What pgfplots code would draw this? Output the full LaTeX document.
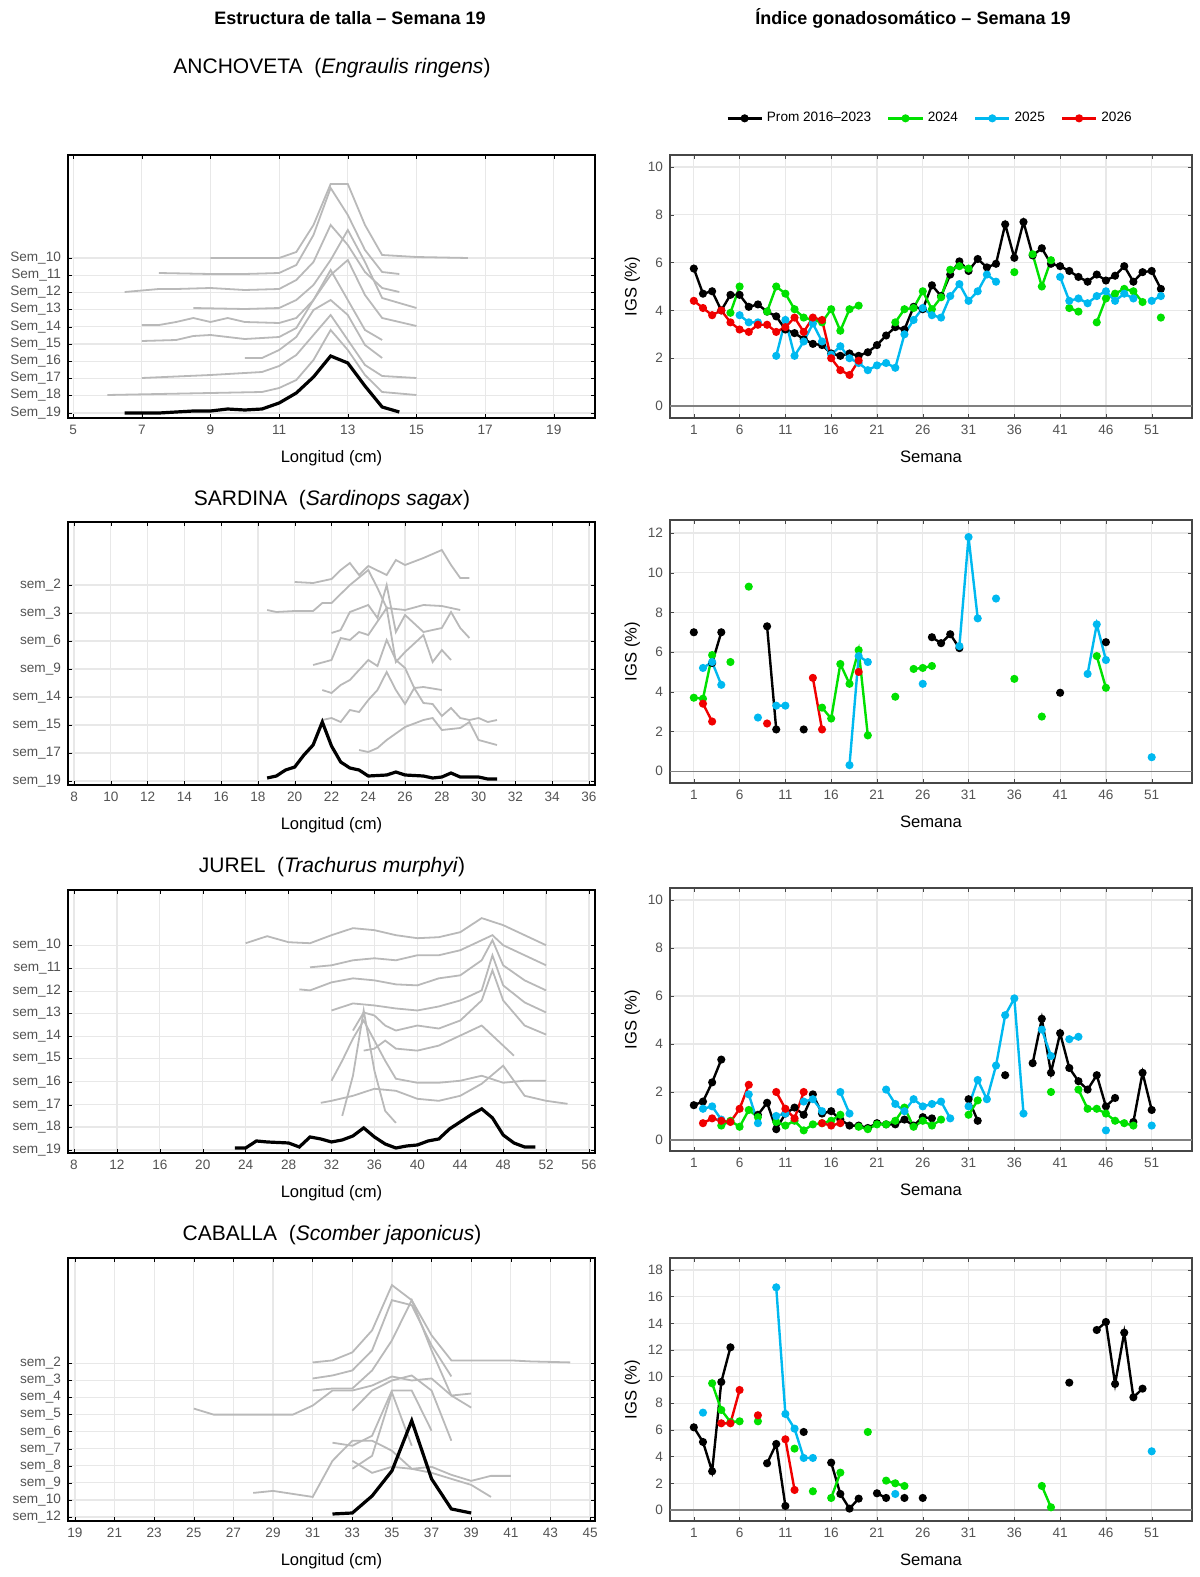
\documentclass[border=0pt]{standalone}
\usepackage{pgfplots}
\pgfplotsset{compat=1.18}
\usepackage{fontspec}
\setmainfont{Liberation Sans}
\definecolor{cg}{RGB}{0,225,0}
\definecolor{cb}{RGB}{0,185,240}
\definecolor{cr}{RGB}{240,0,0}
\pgfplotsset{
 R/.style={scale only axis,width=261pt,height=131.5pt,anchor=north west,
  xmin=-1.6,xmax=55.4,xtick={1,6,...,51},unbounded coords=jump,
  grid=major,grid style={gray!18,line width=0.6pt},
  axis line style={gray!55!black,line width=0.8pt},
  tick label style={font=\fontsize{6.8}{7}\selectfont,text=gray!65!black},
  xlabel=Semana,ylabel={IGS (\%)},label style={font=\fontsize{8.3}{9}\selectfont},
  xlabel style={yshift=-1pt},ylabel style={yshift=-3pt},
  tick style={gray!55!black},major tick length=2pt,
  /pgf/number format/assume math mode=true,
  every axis plot/.append style={line width=1.2pt,mark=*,mark size=1.4pt}},
 L/.style={scale only axis,width=263.5pt,height=131.5pt,anchor=north west,y dir=reverse,
  grid=major,grid style={gray!18,line width=0.6pt},
  axis line style={black,line width=1pt},
  tick label style={font=\fontsize{6.8}{7}\selectfont,text=gray!65!black},
  xlabel={Longitud (cm)},label style={font=\fontsize{8.3}{9}\selectfont},
  xlabel style={yshift=-1pt},
  tick style={black},major tick length=2pt,
  /pgf/number format/assume math mode=true},
 G/.style={gray!55,line width=0.9pt,mark=none},
 BK/.style={black,line width=1.6pt,mark=none}
}
\begin{document}
\begin{tikzpicture}
\useasboundingbox (0,0) rectangle (599.5pt,-788.5pt);
\node[font=\bfseries\fontsize{9}{10}\selectfont] at (175pt,-9pt) {Estructura de talla -- Semana 19};
\node[font=\bfseries\fontsize{9}{10}\selectfont] at (456.5pt,-9pt) {Índice gonadosomático -- Semana 19};
\node[font=\fontsize{10.5}{12}\selectfont] at (166pt,-34pt) {ANCHOVETA\ \ (\textit{Engraulis ringens})};
\node[font=\fontsize{10.5}{12}\selectfont] at (166pt,-250pt) {SARDINA\ \ (\textit{Sardinops sagax})};
\node[font=\fontsize{10.5}{12}\selectfont] at (166pt,-433.5pt) {JUREL\ \ (\textit{Trachurus murphyi})};
\node[font=\fontsize{10.5}{12}\selectfont] at (166pt,-617.5pt) {CABALLA\ \ (\textit{Scomber japonicus})};

% ---------- Left row 1
\begin{axis}[L,at={(34pt,-77.5pt)},xmin=4.85,xmax=20.2,xtick={5,7,...,19},ymin=155,ymax=418,
 ytick={258,275.2,292.4,309.6,326.8,344,361.2,378.4,395.6,413},
 yticklabels={Sem\_10,Sem\_11,Sem\_12,Sem\_13,Sem\_14,Sem\_15,Sem\_16,Sem\_17,Sem\_18,Sem\_19}]
\addplot[G] coordinates {(9,258)(10,258)(11,258)(11.5,252)(12,225)(12.5,184)(13,184)(13.5,225)(14,255)(15,257)(16.5,258)};
\addplot[G] coordinates {(7.5,273)(9,274)(10,274)(11,273)(11.5,265)(12,235)(12.5,188)(13,215)(13.5,250)(14,272)(14.5,274)};
\addplot[G] coordinates {(6.5,292)(7.5,289)(8,289)(9,288)(10,290)(11,289)(11.5,280)(12,262)(12.5,225)(13,245)(13.5,272)(14,288)(14.5,292)};
\addplot[G] coordinates {(8.5,308)(10,309)(11,308)(11.5,300)(12,285)(12.5,260)(13,230)(13.5,262)(14,298)(15,308)};
\addplot[G] coordinates {(7,325)(7.5,325)(8,322)(8.5,318)(9,322)(9.5,318)(10,322)(11,323)(11.5,318)(12,300)(12.5,275)(13,260)(13.5,295)(14,318)(15,326)};
\addplot[G] coordinates {(7,341)(8,340)(8.5,336)(9,335)(10,339)(11,337)(11.5,328)(12,300)(12.5,270)(13,300)(13.5,330)(14,340)};
\addplot[G] coordinates {(10,358)(10.5,358)(11,350)(11.5,337)(12,310)(12.5,300)(13,315)(13.5,345)(14,358)};
\addplot[G] coordinates {(7,378)(9,375)(10.5,372)(11,366)(11.5,355)(12,335)(12.5,315)(13,340)(13.5,365)(14,376)(15,378)};
\addplot[G] coordinates {(6,395)(9,393)(10.5,392)(11,388)(11.5,380)(12,360)(12.5,330)(13,350)(13.5,375)(14,392)(15,395)};
\addplot[BK] coordinates {(6.5,413)(7.5,413)(8,412)(8.5,411)(9,411)(9.5,409)(10,410)(10.5,409)(11,403)(11.5,393)(12,377)(12.5,356)(13,363)(13.5,386)(14,407)(14.5,412)};
\end{axis}

% ---------- Left row 2
\begin{axis}[L,at={(34pt,-261pt)},xmin=7.67,xmax=36.33,xtick={8,10,...,36},ymin=522,ymax=785,
 ytick={585,613,641,669,697,725,753,781},
 yticklabels={sem\_2,sem\_3,sem\_6,sem\_9,sem\_14,sem\_15,sem\_17,sem\_19}]
\addplot[G] coordinates {(20,582)(21,583)(22,579)(22.5,570)(23,563)(23.5,575)(24,566)(25,575)(25.5,560)(26,565)(27,558)(28,550)(28.5,565)(29,578)(29.5,578)};
\addplot[G] coordinates {(18.5,610)(19,612)(20,611)(21,611)(21.5,603)(22,603)(23,585)(24,570)(24.5,588)(25,608)(26,610)(27,605)(28,606)(29,610)};
\addplot[G] coordinates {(22,633)(22.5,630)(23,612)(24,605)(24.5,618)(25,585)(25.5,632)(26,615)(27,632)(28,628)(28.5,612)(29,628)(29.5,638)};
\addplot[G] coordinates {(21,665)(22,660)(22.5,638)(23,640)(23.5,632)(24,635)(25,608)(25.5,662)(26,652)(27,635)(27.5,662)(28,650)(28.5,660)};
\addplot[G] coordinates {(21.5,690)(22,693)(22.5,685)(23,680)(24,660)(24.5,666)(25,640)(25.5,660)(26,668)(26.5,688)(27,687)(28,690)};
\addplot[G] coordinates {(21.5,720)(22,718)(22.5,722)(23,710)(23.5,712)(24,700)(24.5,690)(25,672)(25.5,690)(26,704)(26.5,688)(27,703)(27.5,704)(28,716)(28.5,708)(29,718)(29.5,720)(30,718)(30.5,722)(31,720)};
\addplot[G] coordinates {(23.5,750)(24,752)(24.5,748)(25,740)(26,727)(27,720)(27.5,718)(28,730)(29,728)(29.5,722)(30,740)(31,745)};
\addplot[BK] coordinates {(18.5,778)(19,776)(19.5,770)(20,767)(20.5,755)(21,745)(21.5,722)(22,746)(22.5,762)(23,768)(23.5,770)(24,776)(25,775)(25.5,772)(26,775)(27,776)(27.5,778)(28,777)(28.5,773)(29,777)(30,777)(30.5,779)(31,779)};
\end{axis}

% ---------- Left row 3
\begin{axis}[L,at={(34pt,-445pt)},xmin=7.44,xmax=56.56,xtick={8,12,...,56},ymin=890,ymax=1152,
 ytick={945,968,991,1013,1036,1058,1081,1104,1126,1149},
 yticklabels={sem\_10,sem\_11,sem\_12,sem\_13,sem\_14,sem\_15,sem\_16,sem\_17,sem\_18,sem\_19}]
\addplot[G] coordinates {(24,943)(26,936)(28,942)(30,943)(32,935)(34,928)(36,930)(38,935)(40,938)(42,937)(44,932)(46,918)(48,925)(50,935)(52,945)};
\addplot[G] coordinates {(30,967)(32,965)(34,960)(36,958)(38,960)(40,955)(42,955)(44,950)(46,940)(47,935)(48,945)(50,955)(52,965)};
\addplot[G] coordinates {(29,989)(30,990)(32,982)(34,978)(36,980)(38,984)(40,985)(42,978)(44,975)(46,960)(47,940)(48,965)(50,980)(52,990)};
\addplot[G] coordinates {(32,1010)(34,1003)(36,1005)(38,1008)(40,1010)(42,1006)(44,1000)(46,990)(47,955)(48,985)(50,1002)(52,1012)};
\addplot[G] coordinates {(34,1030)(35,1012)(36,1015)(37,1025)(38,1030)(40,1025)(42,1028)(44,1020)(46,1000)(47,970)(48,1000)(50,1025)(52,1034)};
\addplot[G] coordinates {(35,1050)(36,1048)(37,1040)(38,1048)(40,1050)(42,1045)(44,1035)(46,1025)(48,1045)(49,1055)};
\addplot[G] coordinates {(32,1080)(33,1060)(34,1038)(35,1020)(36,1040)(37,1060)(38,1078)(40,1082)(42,1082)(44,1080)(46,1075)(48,1082)(50,1080)(52,1080)};
\addplot[G] coordinates {(31,1102)(32,1100)(34,1095)(36,1088)(38,1090)(40,1098)(42,1100)(44,1095)(46,1083)(48,1065)(49,1080)(50,1095)(52,1100)(54,1103)};
\addplot[G] coordinates {(33,1115)(34,1075)(35,1010)(36,1070)(37,1110)(38,1122)};
\addplot[BK] coordinates {(23,1147)(24,1147)(25,1140)(26,1141)(28,1142)(29,1146)(30,1136)(31,1138)(32,1141)(33,1139)(34,1135)(35,1127)(36,1136)(37,1143)(38,1147)(39,1145)(40,1144)(41,1140)(42,1138)(43,1128)(44,1121)(45,1114)(46,1108)(47,1117)(48,1134)(49,1142)(50,1146)(51,1146)};
\end{axis}

% ---------- Left row 4
\begin{axis}[L,at={(34pt,-629pt)},xmin=18.65,xmax=45.25,xtick={19,21,...,45},ymin=1258,ymax=1520,
 ytick={1363,1380,1397,1414,1431,1448,1465,1482,1499,1516},
 yticklabels={sem\_2,sem\_3,sem\_4,sem\_5,sem\_6,sem\_7,sem\_8,sem\_9,sem\_10,sem\_12}]
\addplot[G] coordinates {(31,1362)(32,1360)(33,1352)(34,1330)(35,1285)(36,1300)(37,1335)(38,1360)(40,1360)(41,1360)(42,1361)(44,1362)};
\addplot[G] coordinates {(31,1378)(32,1375)(33,1370)(34,1350)(35,1300)(36,1305)(37,1345)(38,1376)};
\addplot[G] coordinates {(31,1390)(32,1388)(33,1388)(34,1370)(35,1340)(36,1300)(37,1350)(38,1395)(39,1393)};
\addplot[G] coordinates {(25,1408)(26,1414)(28,1414)(30,1414)(31,1405)(32,1390)(33,1390)(34,1385)(35,1376)(36,1380)(37,1378)(38,1395)(39,1407)};
\addplot[G] coordinates {(33,1410)(34,1390)(35,1380)(36,1375)(37,1390)(38,1440)};
\addplot[G] coordinates {(32,1442)(33,1445)(34,1435)(35,1390)(36,1390)(37,1430)};
\addplot[G] coordinates {(33,1468)(34,1455)(35,1392)(36,1445)};
\addplot[G] coordinates {(28,1492)(29,1490)(30,1493)(31,1496)(32,1460)(33,1440)(34,1440)(35,1450)(36,1468)(37,1466)(38,1474)(39,1480)(40,1475)(41,1475)};
\addplot[G] coordinates {(33,1460)(34,1472)(35,1466)(36,1468)(37,1472)(38,1478)(39,1484)(40,1496)};
\addplot[BK] coordinates {(32,1513)(33,1512)(34,1495)(35,1470)(36,1420)(37,1478)(38,1508)(39,1512)};
\end{axis}

% ---------- Right row 1
\begin{axis}[R,at={(335pt,-77.5pt)},ymin=-0.5,ymax=10.5,ytick={0,2,...,10},
 legend style={at={(0.5,1)},anchor=south,yshift=11pt,draw=none,font=\fontsize{6.8}{7}\selectfont,
  /tikz/every even column/.append style={column sep=6pt}},legend columns=4,
  legend image post style={line width=1.2pt}]
\addplot[black] coordinates {(1,5.75)(2,4.7)(3,4.8)(4,4.0)(5,4.65)(6,4.65)(7,4.15)(8,4.25)(9,3.95)(10,3.75)(11,3.2)(12,3.05)(13,2.8)(14,2.6)(15,2.55)(16,2.2)(17,2.1)(18,2.2)(19,2.1)(20,2.25)(21,2.55)(22,2.95)(23,3.3)(24,3.2)(25,4.15)(26,4.05)(27,5.05)(28,4.6)(29,5.5)(30,6.05)(31,5.65)(32,6.15)(33,5.8)(34,5.95)(35,7.6)(36,6.2)(37,7.7)(38,6.3)(39,6.6)(40,5.95)(41,5.85)(42,5.65)(43,5.4)(44,5.2)(45,5.5)(46,5.25)(47,5.45)(48,5.85)(49,5.2)(50,5.6)(51,5.65)(52,4.9)};
\addplot[cg] coordinates {(5,3.9)(6,5.0)(7,nan)(9,3.95)(10,5.0)(11,4.7)(12,4.05)(13,3.7)(14,3.6)(15,3.5)(16,4.05)(17,3.15)(18,4.05)(19,4.2)(20,nan)(23,3.5)(24,4.05)(25,4.1)(26,4.8)(27,4.05)(28,4.55)(29,5.7)(30,5.85)(31,5.75)(32,nan)(36,5.6)(37,nan)(38,6.35)(39,5.0)(40,6.1)(41,nan)(42,4.1)(43,3.95)(44,nan)(45,3.5)(46,4.5)(47,4.7)(48,4.9)(49,4.8)(50,4.35)(51,nan)(52,3.7)};
\addplot[cb] coordinates {(6,3.8)(7,3.5)(8,3.5)(9,nan)(10,2.1)(11,3.6)(12,2.1)(13,2.7)(14,3.45)(15,2.7)(16,2.15)(17,2.5)(18,2.0)(19,1.8)(20,1.5)(21,1.7)(22,1.8)(23,1.6)(24,3.0)(25,3.6)(26,4.1)(27,3.8)(28,3.7)(29,4.6)(30,5.1)(31,4.4)(32,4.8)(33,5.5)(34,5.2)(35,nan)(41,5.4)(42,4.4)(43,4.5)(44,4.3)(45,4.6)(46,4.8)(47,4.4)(48,4.7)(49,4.5)(50,nan)(51,4.4)(52,4.6)};
\addplot[cr] coordinates {(1,4.4)(2,4.1)(3,3.8)(4,4.0)(5,3.5)(6,3.2)(7,3.1)(8,3.4)(9,3.4)(10,3.1)(11,3.3)(12,3.7)(13,3.1)(14,3.7)(15,3.6)(16,2.0)(17,1.5)(18,1.3)(19,1.9)};
\legend{Prom 2016--2023,2024,2025,2026}
\addplot[gray,line width=0.6pt,mark=none,forget plot] coordinates {(-1.6,0)(55.4,0)};
\end{axis}

% ---------- Right row 2
\begin{axis}[R,at={(335pt,-260pt)},ymin=-0.6,ymax=12.66,ytick={0,2,...,12}]
\addplot[gray,line width=0.6pt,mark=none] coordinates {(-1.6,0)(55.4,0)};
\addplot[black] coordinates {(1,7.0)(2,nan)(3,5.45)(4,7.0)(5,nan)(9,7.3)(10,2.1)(11,nan)(13,2.1)(14,nan)(27,6.75)(28,6.45)(29,6.9)(30,6.2)(31,nan)(41,3.95)(42,nan)(46,6.5)};
\addplot[cg] coordinates {(1,3.7)(2,3.65)(3,5.85)(4,nan)(5,5.5)(6,nan)(7,9.3)(8,nan)(15,3.2)(16,2.65)(17,5.4)(18,4.4)(19,6.1)(20,1.8)(21,nan)(23,3.75)(24,nan)(25,5.15)(26,5.2)(27,5.3)(28,nan)(36,4.65)(37,nan)(39,2.75)(40,nan)(45,5.8)(46,4.2)};
\addplot[cb] coordinates {(2,5.2)(3,5.5)(4,4.35)(5,nan)(8,2.7)(9,nan)(10,3.3)(11,3.3)(12,nan)(18,0.3)(19,5.8)(20,5.5)(21,nan)(26,4.4)(27,nan)(30,6.3)(31,11.8)(32,7.7)(33,nan)(34,8.7)(35,nan)(44,4.9)(45,7.4)(46,5.6)(47,nan)(51,0.7)};
\addplot[cr] coordinates {(2,3.4)(3,2.5)(4,nan)(9,2.4)(10,nan)(14,4.7)(15,2.1)(16,nan)(19,5.0)};
\end{axis}

% ---------- Right row 3
\begin{axis}[R,at={(335pt,-444pt)},ymin=-0.46,ymax=10.5,ytick={0,2,...,10}]
\addplot[gray,line width=0.6pt,mark=none] coordinates {(-1.6,0)(55.4,0)};
\addplot[black] coordinates {(1,1.45)(2,1.6)(3,2.4)(4,3.35)(5,nan)(8,1.05)(9,1.55)(10,0.45)(11,1.1)(12,1.35)(13,1.05)(14,1.9)(15,1.1)(16,1.2)(17,0.85)(18,0.6)(19,0.6)(20,0.5)(21,0.7)(22,0.65)(23,0.65)(24,0.85)(25,0.6)(26,0.95)(27,0.9)(28,nan)(31,1.7)(32,0.8)(33,nan)(35,2.7)(36,nan)(38,3.2)(39,5.05)(40,2.8)(41,4.45)(42,3.0)(43,2.45)(44,2.1)(45,2.7)(46,1.4)(47,1.75)(48,nan)(49,0.75)(50,2.8)(51,1.25)};
\addplot[cg] coordinates {(4,0.6)(5,0.8)(6,0.55)(7,1.25)(8,0.95)(9,nan)(10,0.75)(11,0.6)(12,0.8)(13,0.4)(14,0.65)(15,0.7)(16,0.8)(17,1.05)(18,nan)(19,0.55)(20,0.45)(21,0.65)(22,0.65)(23,0.8)(24,1.35)(25,0.55)(26,0.8)(27,0.6)(28,0.85)(29,nan)(31,1.05)(32,1.65)(33,nan)(40,2.0)(41,nan)(43,2.1)(44,1.3)(45,1.3)(46,1.1)(47,0.8)(48,0.7)(49,0.6)};
\addplot[cb] coordinates {(2,1.3)(3,1.4)(4,0.85)(5,nan)(7,1.9)(8,0.7)(9,nan)(10,1.0)(11,1.1)(12,nan)(13,1.6)(14,1.7)(15,1.2)(16,nan)(17,2.0)(18,1.1)(19,nan)(22,2.1)(23,1.5)(24,1.2)(25,1.7)(26,1.4)(27,1.5)(28,1.6)(29,0.9)(30,nan)(31,1.4)(32,2.5)(33,1.7)(34,3.1)(35,5.2)(36,5.9)(37,1.1)(38,nan)(39,4.6)(40,3.5)(41,nan)(42,4.2)(43,4.3)(44,nan)(46,0.4)(47,nan)(51,0.6)};
\addplot[cr] coordinates {(2,0.7)(3,0.9)(4,0.8)(5,0.75)(6,1.3)(7,2.3)(8,nan)(10,2.0)(11,1.3)(12,0.9)(13,2.0)(14,nan)(15,0.7)(16,0.6)(17,0.7)};
\end{axis}

% ---------- Right row 4
\begin{axis}[R,at={(335pt,-629pt)},ymin=-0.83,ymax=18.9,ytick={0,2,...,18}]
\addplot[gray,line width=0.6pt,mark=none] coordinates {(-1.6,0)(55.4,0)};
\addplot[black] coordinates {(1,6.2)(2,5.1)(3,2.9)(4,9.6)(5,12.2)(6,nan)(9,3.5)(10,4.95)(11,0.3)(12,nan)(13,5.85)(14,nan)(16,3.55)(17,1.2)(18,0.1)(19,0.85)(20,nan)(21,1.25)(22,0.9)(23,nan)(24,0.9)(25,nan)(26,0.9)(27,nan)(42,9.55)(43,nan)(45,13.5)(46,14.1)(47,9.45)(48,13.3)(49,8.45)(50,9.1)};
\addplot[cb] coordinates {(2,7.3)(3,nan)(10,16.7)(11,7.2)(12,6.1)(13,3.9)(14,3.9)(15,nan)(23,1.2)(24,nan)(51,4.4)};
\addplot[cg] coordinates {(3,9.5)(4,7.5)(5,6.6)(6,6.65)(7,nan)(8,6.65)(9,nan)(12,4.6)(13,nan)(14,1.4)(15,nan)(16,0.9)(17,2.8)(18,nan)(20,5.85)(21,nan)(22,2.2)(23,2.0)(24,1.8)(25,nan)(39,1.8)(40,0.2)};
\addplot[cr] coordinates {(4,6.5)(5,6.5)(6,9.0)(7,nan)(8,7.1)(9,nan)(11,5.3)(12,1.5)};
\end{axis}
\end{tikzpicture}
\end{document}
